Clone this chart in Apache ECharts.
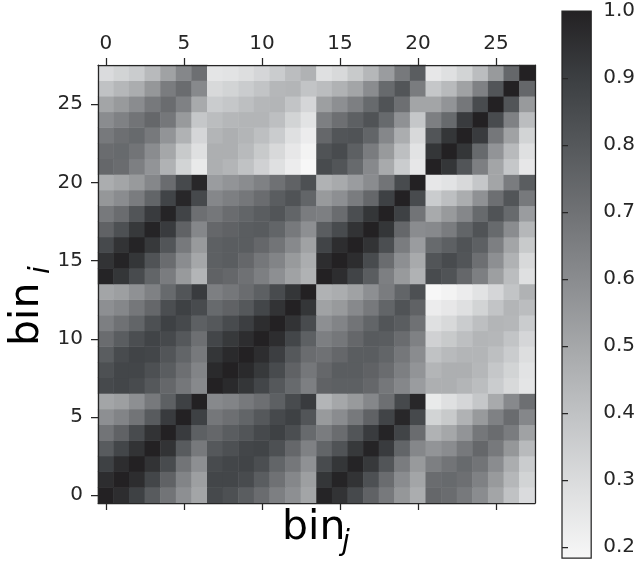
<!DOCTYPE html>
<html>
<head>
<meta charset="utf-8">
<script src="https://cdn.jsdelivr.net/npm/echarts@6/dist/echarts.min.js"></script>
<style>
  html, body { margin: 0; padding: 0; background: #ffffff; }
  #chart { width: 638px; height: 562px; }
</style>
</head>
<body>
<div id="chart"></div>
<script>
// Bin correlation matrix, 28 bins (four groups of seven).
// Lower triangle only: corrLower[i][j] for j <= i; the matrix is symmetric.
const corrLower = [
  [1],
  [0.96, 1],
  [0.89, 0.96, 1],
  [0.79, 0.87, 0.94, 1],
  [0.69, 0.76, 0.85, 0.94, 1],
  [0.59, 0.63, 0.69, 0.79, 0.91, 1],
  [0.51, 0.53, 0.59, 0.67, 0.77, 0.89, 1],
  [0.86, 0.87, 0.85, 0.80, 0.74, 0.68, 0.61, 1],
  [0.83, 0.87, 0.87, 0.83, 0.78, 0.71, 0.63, 0.97, 1],
  [0.78, 0.85, 0.88, 0.87, 0.81, 0.75, 0.67, 0.93, 0.97, 1],
  [0.72, 0.78, 0.84, 0.88, 0.86, 0.80, 0.71, 0.87, 0.92, 0.96, 1],
  [0.65, 0.70, 0.75, 0.83, 0.89, 0.86, 0.77, 0.80, 0.85, 0.90, 0.96, 1],
  [0.59, 0.62, 0.68, 0.74, 0.84, 0.89, 0.85, 0.73, 0.76, 0.80, 0.87, 0.94, 1],
  [0.51, 0.53, 0.58, 0.64, 0.73, 0.81, 0.91, 0.65, 0.68, 0.72, 0.77, 0.85, 0.93, 1],
  [0.99, 0.93, 0.85, 0.75, 0.66, 0.55, 0.45, 0.76, 0.74, 0.70, 0.65, 0.59, 0.52, 0.46, 1],
  [0.94, 0.99, 0.93, 0.82, 0.72, 0.60, 0.50, 0.77, 0.78, 0.74, 0.68, 0.63, 0.55, 0.48, 0.96, 1],
  [0.86, 0.94, 0.99, 0.92, 0.81, 0.67, 0.55, 0.77, 0.78, 0.78, 0.74, 0.69, 0.61, 0.52, 0.88, 0.96, 1],
  [0.76, 0.83, 0.92, 0.99, 0.91, 0.76, 0.62, 0.74, 0.76, 0.78, 0.79, 0.75, 0.67, 0.59, 0.78, 0.85, 0.94, 1],
  [0.67, 0.72, 0.81, 0.91, 0.99, 0.88, 0.71, 0.68, 0.72, 0.75, 0.78, 0.81, 0.75, 0.66, 0.65, 0.72, 0.84, 0.93, 1],
  [0.56, 0.60, 0.66, 0.75, 0.88, 0.98, 0.86, 0.62, 0.65, 0.68, 0.72, 0.78, 0.82, 0.75, 0.55, 0.59, 0.66, 0.74, 0.89, 1],
  [0.48, 0.51, 0.55, 0.62, 0.72, 0.86, 0.98, 0.54, 0.57, 0.60, 0.64, 0.70, 0.76, 0.83, 0.46, 0.49, 0.54, 0.60, 0.69, 0.85, 1],
  [0.74, 0.72, 0.65, 0.57, 0.46, 0.33, 0.24, 0.47, 0.45, 0.40, 0.34, 0.28, 0.23, 0.18, 0.85, 0.81, 0.73, 0.61, 0.49, 0.36, 0.25, 1],
  [0.72, 0.73, 0.69, 0.60, 0.50, 0.37, 0.28, 0.47, 0.47, 0.43, 0.37, 0.31, 0.25, 0.20, 0.82, 0.85, 0.77, 0.66, 0.55, 0.41, 0.27, 0.93, 1],
  [0.67, 0.71, 0.73, 0.67, 0.57, 0.46, 0.32, 0.45, 0.47, 0.45, 0.41, 0.36, 0.28, 0.23, 0.74, 0.81, 0.82, 0.75, 0.62, 0.48, 0.31, 0.81, 0.93, 1],
  [0.60, 0.64, 0.69, 0.74, 0.68, 0.55, 0.38, 0.42, 0.44, 0.45, 0.45, 0.41, 0.33, 0.27, 0.65, 0.71, 0.77, 0.82, 0.73, 0.58, 0.38, 0.65, 0.73, 0.91, 1],
  [0.51, 0.55, 0.60, 0.67, 0.72, 0.64, 0.49, 0.36, 0.38, 0.41, 0.44, 0.45, 0.39, 0.32, 0.53, 0.59, 0.65, 0.73, 0.82, 0.71, 0.51, 0.51, 0.57, 0.68, 0.85, 1],
  [0.40, 0.44, 0.48, 0.56, 0.66, 0.72, 0.61, 0.31, 0.33, 0.36, 0.39, 0.44, 0.45, 0.39, 0.42, 0.46, 0.51, 0.60, 0.73, 0.81, 0.66, 0.38, 0.43, 0.52, 0.64, 0.81, 1],
  [0.30, 0.33, 0.36, 0.43, 0.52, 0.62, 0.71, 0.26, 0.27, 0.29, 0.32, 0.36, 0.42, 0.46, 0.28, 0.31, 0.37, 0.44, 0.54, 0.67, 0.78, 0.25, 0.28, 0.33, 0.42, 0.55, 0.74, 1]
];

// Bin labels on both axes and colour scale limits / ticks
const bins = corrLower.map((row, k) => String(k));
const colorMin = 0.184;
const colorMax = 1.0;
const colorbarTicks = [0.2, 0.3, 0.4, 0.5, 0.6, 0.7, 0.8, 0.9, 1.0];

// Grey ramp, light (low) to dark (high)
const greyRamp = ['#f7f7f7', '#dedfe0', '#c3c5c7', '#a8aaac', '#8c8e91',
                  '#717376', '#56595c', '#3c3f42', '#232123'];

// Full symmetric matrix as [col, row, value] cells
const cells = [];
for (let i = 0; i < bins.length; i++) {
  for (let j = 0; j < bins.length; j++) {
    const v = i >= j ? corrLower[i][j] : corrLower[j][i];
    cells.push([j, i, v]);
  }
}

const ink = '#262626';
const font = 'DejaVu Sans';
const lineStyle = { color: ink, width: 1.25 };

const catAxisBase = {
  type: 'category',
  data: bins,
  gridIndex: 0,
  z: 5,
  boundaryGap: true,
  axisLine: { show: true, lineStyle: lineStyle },
  axisTick: { show: true, interval: 4, alignWithLabel: true, length: 7, inside: false, lineStyle: lineStyle },
  axisLabel: { show: true, interval: 4, fontSize: 20, color: ink, fontFamily: font, margin: 15 },
  splitLine: { show: false }
};

const chart = echarts.init(document.getElementById('chart'), null, { renderer: 'canvas' });

const gradStops = greyRamp.map((c, k) => ({ offset: k / (greyRamp.length - 1), color: c }));

chart.setOption({
  animation: false,
  backgroundColor: '#ffffff',
  grid: [
    { left: 98, top: 65, width: 437, height: 438, containLabel: false },
    { left: 562, top: 11, width: 30, height: 547, containLabel: false }
  ],
  xAxis: [
    Object.assign({}, catAxisBase, {
      position: 'top',
      axisLabel: { show: true, interval: 4, fontSize: 20, color: ink, fontFamily: font, margin: 11 }
    }),
    Object.assign({}, catAxisBase, { position: 'bottom', axisLabel: { show: false } }),
    { type: 'value', gridIndex: 1, min: 0, max: 1, show: false }
  ],
  yAxis: [
    Object.assign({}, catAxisBase, { position: 'left' }),
    Object.assign({}, catAxisBase, { position: 'right', axisTick: { show: false }, axisLabel: { show: false } }),
    {
      type: 'value', gridIndex: 1, position: 'right', min: colorMin, max: colorMax, z: 5,
      axisLine: { show: false },
      axisTick: { show: true, length: 6, lineStyle: lineStyle, customValues: colorbarTicks },
      axisLabel: {
        show: true, fontSize: 20, color: ink, fontFamily: font, margin: 12,
        customValues: colorbarTicks,
        formatter: v => v.toFixed(1)
      },
      splitLine: { show: false }
    }
  ],
  visualMap: {
    show: false,
    type: 'continuous',
    seriesIndex: 0,
    dimension: 2,
    min: colorMin,
    max: colorMax,
    inRange: { color: greyRamp }
  },
  series: [
    {
      type: 'heatmap',
      xAxisIndex: 0,
      yAxisIndex: 0,
      data: cells,
      itemStyle: { borderWidth: 0 },
      emphasis: { disabled: true },
      progressive: 0
    },
    {
      type: 'custom',
      xAxisIndex: 2,
      yAxisIndex: 2,
      silent: true,
      data: [[0, colorMin, colorMax]],
      encode: { x: 0, y: [1, 2] },
      renderItem: function (params, api) {
        const top = api.coord([0, api.value(2)]);
        const bottom = api.coord([1, api.value(1)]);
        return {
          type: 'rect',
          shape: { x: top[0], y: top[1], width: bottom[0] - top[0], height: bottom[1] - top[1] },
          style: {
            fill: new echarts.graphic.LinearGradient(0, 1, 0, 0, gradStops),
            stroke: ink,
            lineWidth: 1.25
          }
        };
      }
    }
  ],
  graphic: [
    // x-axis title: bin_j
    { type: 'text', x: 282, y: 528, z: 10,
      style: { text: 'bin', font: '41px "DejaVu Sans"', fill: '#000000', align: 'left', verticalAlign: 'middle' } },
    { type: 'text', x: 342, y: 543, z: 10,
      style: { text: 'j', font: 'italic 28px "DejaVu Sans"', fill: '#000000', align: 'left', verticalAlign: 'middle' } },
    // y-axis title: bin_i (rotated)
    { type: 'text', x: 27, y: 346, rotation: Math.PI / 2, z: 10,
      style: { text: 'bin', font: '41px "DejaVu Sans"', fill: '#000000', align: 'left', verticalAlign: 'middle' } },
    { type: 'text', x: 42, y: 274, rotation: Math.PI / 2, z: 10,
      style: { text: 'i', font: 'italic 28px "DejaVu Sans"', fill: '#000000', align: 'left', verticalAlign: 'middle' } }
  ]
});
</script>
</body>
</html>
